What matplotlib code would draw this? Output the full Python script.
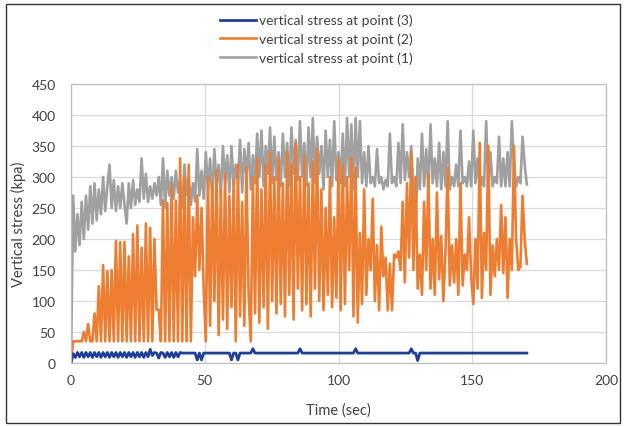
import numpy as np
import matplotlib.pyplot as plt
from matplotlib.patches import Rectangle

plt.rcParams['font.family'] = ['Lato', 'DejaVu Sans']

# sampling step of the records (sec)
dt = 0.8

# vertical stress at point (1), kpa
stress_p1 = [
    0, 270, 180, 240, 190, 260, 200, 270, 215, 285, 225, 290, 230, 280, 240, 300, 245, 285, 320, 250, 295, 245, 285, 250, 290,
    255, 225, 290, 250, 295, 255, 280, 260, 330, 265, 305, 260, 285, 265, 290, 270, 300, 255, 330, 250, 310, 270, 300, 265, 310,
    275, 295, 250, 320, 270, 300, 255, 290, 260, 345, 270, 310, 265, 340, 280, 330, 265, 345, 285, 320, 270, 350, 290, 335, 275,
    350, 285, 320, 290, 360, 275, 345, 300, 355, 280, 335, 290, 370, 300, 375, 285, 350, 305, 380, 290, 365, 295, 340, 285, 370,
    300, 355, 285, 380, 305, 360, 295, 390, 300, 355, 285, 380, 300, 395, 290, 365, 305, 350, 280, 375, 300, 360, 285, 390, 295,
    340, 290, 370, 285, 395, 300, 385, 280, 395, 300, 390, 290, 340, 285, 350, 290, 300, 285, 345, 290, 300, 280, 295, 285, 370,
    290, 300, 285, 355, 290, 385, 295, 340, 300, 350, 280, 215, 330, 280, 370, 285, 345, 280, 385, 290, 330, 285, 355, 280, 340,
    285, 390, 280, 300, 285, 320, 285, 375, 290, 300, 285, 325, 285, 375, 290, 330, 280, 300, 285, 390, 285, 340, 285, 300, 290,
    365, 285, 330, 285, 340, 285, 390, 320, 285, 300, 290, 365, 320, 288,
]

# vertical stress at point (2), kpa
stress_p2 = [
    0, 35, 35, 35, 35, 35, 50, 35, 63, 35, 35, 80, 35, 124, 35, 158, 35, 148, 35, 150, 35, 197, 35, 195, 35,
    195, 35, 172, 35, 208, 35, 222, 35, 186, 35, 225, 35, 218, 35, 200, 86, 86, 35, 262, 35, 258, 35, 286, 35, 262,
    35, 330, 35, 300, 35, 320, 35, 235, 140, 270, 150, 250, 120, 35, 300, 60, 290, 100, 310, 45, 280, 70, 305, 55, 270,
    90, 295, 35, 320, 75, 260, 60, 315, 110, 35, 300, 80, 330, 65, 280, 90, 320, 55, 340, 100, 300, 80, 330, 95, 290,
    75, 340, 110, 320, 70, 355, 120, 300, 85, 335, 95, 290, 75, 325, 120, 345, 100, 280, 85, 250, 110, 300, 90, 235, 105,
    330, 85, 320, 95, 300, 150, 330, 75, 315, 65, 210, 95, 280, 110, 200, 150, 265, 100, 190, 85, 220, 140, 170, 85, 160,
    85, 175, 170, 180, 150, 260, 130, 290, 170, 340, 150, 300, 120, 175, 110, 260, 150, 305, 120, 200, 110, 275, 135, 205, 100,
    180, 315, 125, 190, 130, 200, 110, 290, 125, 175, 150, 235, 140, 95, 200, 120, 355, 105, 210, 150, 350, 110, 190, 140, 200,
    150, 255, 145, 235, 105, 200, 150, 350, 200, 150, 155, 270, 200, 160,
]

# vertical stress at point (3), kpa
stress_p3 = [
    0, 15, 9, 17, 10, 17, 9, 17, 10, 17, 9, 17, 10, 17, 9, 17, 10, 17, 9, 17, 10, 17, 9, 17, 10,
    17, 9, 17, 10, 17, 9, 17, 10, 17, 9, 17, 10, 22, 12, 17, 16, 8, 17, 16, 9, 17, 10, 17, 9, 17,
    10, 17, 16, 16, 16, 16, 16, 16, 16, 5, 16, 5, 16, 16, 16, 16, 16, 16, 16, 16, 16, 16, 16, 16, 16,
    5, 16, 16, 5, 16, 16, 16, 16, 16, 16, 23, 16, 16, 16, 16, 16, 16, 16, 16, 16, 16, 16, 16, 16, 16,
    16, 16, 16, 16, 16, 16, 16, 23, 16, 16, 16, 16, 16, 16, 16, 16, 16, 16, 16, 16, 16, 16, 16, 16, 16,
    16, 16, 16, 16, 16, 16, 16, 16, 23, 16, 16, 16, 16, 16, 16, 16, 16, 16, 16, 16, 16, 16, 16, 16, 16,
    16, 16, 16, 16, 16, 16, 16, 16, 16, 23, 16, 16, 4, 16, 16, 16, 16, 16, 16, 16, 16, 16, 16, 16, 16,
    16, 16, 16, 16, 16, 16, 16, 16, 16, 16, 16, 16, 16, 16, 16, 16, 16, 16, 16, 16, 16, 16, 16, 16, 16,
    16, 16, 16, 16, 16, 16, 16, 16, 16, 16, 16, 16, 16, 16,
]

labels = ['vertical stress at point (3)', 'vertical stress at point (2)', 'vertical stress at point (1)']
time = np.arange(len(stress_p1)) * dt

fig = plt.figure(figsize=(6.26, 4.27), dpi=100)
ax = fig.add_axes([71/626, 63/427, 535/626, 279/427])

l1, = ax.plot(time, stress_p1, color='#a0a0a0', lw=1.9, solid_joinstyle='round')
l2, = ax.plot(time, stress_p2, color='#ed7d31', lw=1.9, solid_joinstyle='round')
l3, = ax.plot(time, stress_p3, color='#1f3f96', lw=2.0, solid_joinstyle='round')

ax.set_xlim(0, 200)
ax.set_ylim(0, 450)
ax.set_xticks(range(0, 201, 50))
ax.set_yticks(range(0, 451, 50))
ax.grid(color='#d9d9d9', lw=0.9)
ax.set_axisbelow(True)
for s in ax.spines.values():
    s.set_color('#bfbfbf')
    s.set_linewidth(0.9)
ax.tick_params(axis='both', length=0, labelsize=10, colors='#404040')
ax.tick_params(axis='y', pad=11)
ax.tick_params(axis='x', pad=8)

fig.text(18/626, 1 - 224/427, 'Vertical stress (kpa)', rotation=90,
         ha='center', va='center', fontsize=10.5, color='#404040')
fig.text(338/626, 1 - 411/427, 'Time (sec)', ha='center', va='center',
         fontsize=10.5, color='#404040')

leg = fig.legend([l3, l2, l1], labels, loc='center', bbox_to_anchor=(316/626, 1 - 40/427),
                 fontsize=10, handlelength=2.6, handletextpad=0.2, labelspacing=0.45,
                 borderpad=0.25, frameon=True, fancybox=False)
leg.get_frame().set_edgecolor('none')
leg.get_frame().set_facecolor('white')
leg.get_frame().set_alpha(1)
for t in leg.get_texts():
    t.set_color('#404040')

# outer chart border
fig.patches.append(Rectangle((6/626, 3/427), 614/626, 419/427, transform=fig.transFigure,
                             fill=False, ec='#333333', lw=1))

fig.savefig('out.png', dpi=100)
